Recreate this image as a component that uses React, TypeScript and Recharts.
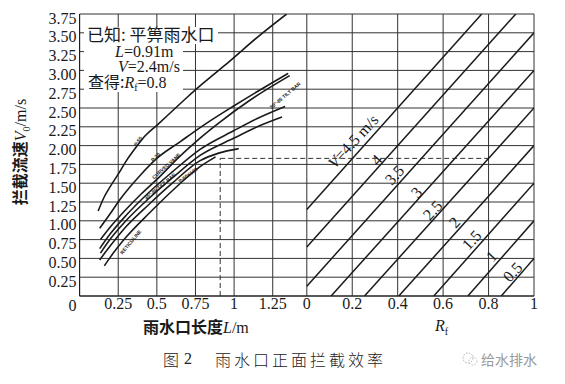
import { ComposedChart, Line, XAxis, YAxis, CartesianGrid, ReferenceLine, Scatter } from "recharts";

// Two panels share one horizontal axis: the right panel is Rf (0..1),
// the left panel is grate length L mapped into [-1, 0) of the same axis.
const LEN_SCALE = 0.68;
const lx = (L: number) => -1 + L * LEN_SCALE;

const lengthTicks = [0.25, 0.5, 0.75, 1, 1.25];
const lengthTickLabels = ["0.25", "0.5", "0.75", "1", "1.25"];
const rfTicks = [0, 0.2, 0.4, 0.6, 0.8, 1];
const rfTickLabels = ["0", "0.2", "0.4", "0.6", "0.8", "1"];
const vTicks = [0, 0.25, 0.5, 0.75, 1, 1.25, 1.5, 1.75, 2, 2.25, 2.5, 2.75, 3, 3.25, 3.5, 3.75];

// splash-over velocity curves: [L (m), V0 (m/s)]
const p50Curve = [[0.12, 1.13], [0.16, 1.32], [0.2, 1.46], [0.25, 1.62], [0.3, 1.79], [0.37, 1.99], [0.42, 2.12], [0.5, 2.27], [0.6, 2.46], [0.7, 2.65], [0.8, 2.83], [0.97, 3.12], [1.15, 3.44], [1.34, 3.75]];
const p30Curve = [[0.13, 0.9], [0.2, 1.1], [0.26, 1.28], [0.39, 1.6], [0.5, 1.83], [0.65, 2.05], [0.78, 2.24], [1.0, 2.53], [1.2, 2.78], [1.35, 2.96]];
const curvedVaneCurve = [[0.135, 0.75], [0.2, 0.92], [0.3, 1.15], [0.4, 1.36], [0.5, 1.55], [0.65, 1.86], [0.78, 2.1], [0.9, 2.3], [1.1, 2.6], [1.36, 2.93]];
const tilt4585Curve = [[0.13, 0.63], [0.2, 0.83], [0.3, 1.07], [0.45, 1.38], [0.6, 1.65], [0.78, 1.95], [1.0, 2.2], [1.15, 2.36], [1.33, 2.52]];
const p50x100Curve = [[0.135, 0.57], [0.2, 0.76], [0.3, 1.0], [0.45, 1.3], [0.6, 1.57], [0.78, 1.87], [1.0, 2.1], [1.15, 2.25], [1.31, 2.38]];
const tilt3085Curve = [[0.13, 0.48], [0.2, 0.67], [0.3, 0.92], [0.45, 1.22], [0.6, 1.5], [0.78, 1.8], [0.9, 1.9], [1.03, 1.96]];
const reticulineCurve = [[0.16, 0.4], [0.2, 0.52], [0.3, 0.78], [0.45, 1.1], [0.6, 1.4], [0.78, 1.72], [0.88, 1.85]];

const grateCurves = [p50Curve, p30Curve, curvedVaneCurve, tilt4585Curve, p50x100Curve, tilt3085Curve, reticulineCurve];

// curve names: [text, L, V0, angle]
const curveLabels: [string, number, number, number][] = [
  ["P-50", 0.377, 2.06, -55],
  ["P-30", 0.49, 1.85, -45],
  ["CURVED VANE", 0.56, 1.73, -42],
  ["45°-85 TILT BAR", 0.52, 1.46, -40],
  ["P-50X100", 0.7, 1.61, -36],
  ["30°-85 TILT BAR", 1.33, 2.67, -40],
  ["RETICULINE", 0.33, 0.72, -50],
];

// efficiency lines for approach velocity V: start / end as [Rf, V0]
const velocities = [4.5, 4, 3.5, 3, 2.5, 2, 1.5, 1, 0.5];
const lineStarts = [[0, 1.15], [0, 0.65], [0, 0.13], [0.107, 0], [0.254, 0], [0.405, 0], [0.559, 0], [0.709, 0], [0.856, 0]];
const lineEnds = [[0.77, 3.75], [0.92, 3.75], [1, 3.5], [1, 3.0], [1, 2.5], [1, 2.0], [1, 1.5], [1, 1.0], [1, 0.5]];
const velocityLabelPos = [[0.203, 2.06], [0.307, 1.81], [0.386, 1.61], [0.483, 1.38], [0.554, 1.14], [0.65, 0.98], [0.725, 0.745], [0.813, 0.53], [0.906, 0.32]];

// worked example: L = 0.91 m, V = 2.4 m/s -> V0 = 1.83, Rf = 0.8
const exampleL = 0.91;
const exampleV0 = 1.83;
const exampleRf = 0.8;

const serif = "'Liberation Serif', 'DejaVu Serif', serif";
const cjk = "'Noto Sans CJK SC', sans-serif";
const ink = "#1a1a1a";

const xTickItems = [
  ...lengthTicks.map((t, i) => ({ pos: lx(t), text: lengthTickLabels[i] })),
  ...rfTicks.map((t, i) => ({ pos: t, text: rfTickLabels[i] })),
];

const curveData = grateCurves.map((c) => c.map(([L, v]) => ({ x: lx(L), y: v })));
const curveLabelData = curveLabels.map(([text, L, v, angle]) => ({ x: lx(L), y: v, text, angle }));
const velocityLineData = velocities.map((_, i) => [
  { x: lineStarts[i][0], y: lineStarts[i][1] },
  { x: lineEnds[i][0], y: lineEnds[i][1] },
]);
const velocityLabelData = velocities.map((v, i) => ({ x: velocityLabelPos[i][0], y: velocityLabelPos[i][1], v, first: i === 0 }));

function XTick({ x, y, payload }: any) {
  const item = xTickItems.find((t) => Math.abs(t.pos - payload.value) < 1e-6);
  return (
    <text x={x} y={y} dy="0.71em" textAnchor="middle" fontFamily={serif} fontSize={16} fill={ink}>
      {item ? item.text : ""}
    </text>
  );
}

function YTick({ x, y, payload }: any) {
  const v = payload.value as number;
  return (
    <text x={x} y={y + (v === 0 ? 9 : 4)} textAnchor="end" dominantBaseline="central" fontFamily={serif} fontSize={16} fill={ink}>
      {v === 0 ? "0" : v.toFixed(2)}
    </text>
  );
}

function CurveName(p: any) {
  const { cx, cy, payload } = p;
  return (
    <text x={cx} y={cy} transform={`rotate(${payload.angle} ${cx} ${cy})`} textAnchor="middle" dominantBaseline="central"
      fontFamily="'Liberation Sans', Arial, sans-serif" fontSize={5} fontWeight="bold" fill={ink}>
      {payload.text}
    </text>
  );
}

function VelocityName(p: any) {
  const { cx, cy, payload } = p;
  return (
    <text x={cx} y={cy} transform={`rotate(-47 ${cx} ${cy})`} textAnchor="middle" dominantBaseline="central"
      fontFamily={serif} fontSize={16} fill={ink}>
      {payload.first ? (<><tspan fontStyle="italic">V</tspan>{`=${payload.v} m/s`}</>) : String(payload.v)}
    </text>
  );
}

// the worked-example note, drawn in SVG so each row sits on its own baseline
function ExampleNote() {
  return (
    <svg style={{ position: "absolute", left: 0, top: 0 }} width={565} height={100}>
      <rect x={84} y={27} width={134} height={17} fill="#fff" />
      <rect x={84} y={44} width={99} height={48} fill="#fff" />
      <text fontSize={16} fill={ink}>
        <tspan x={87} y={41} fontFamily={cjk} fontSize={17}>已知: 平箅雨水口</tspan>
        <tspan x={115} y={57} fontFamily={serif}><tspan fontStyle="italic">L</tspan>=0.91m</tspan>
        <tspan x={118} y={72} fontFamily={serif}><tspan fontStyle="italic">V</tspan>=2.4m/s</tspan>
        <tspan x={88} y={88} fontFamily={cjk}>查得:</tspan>
        <tspan fontFamily={serif} fontStyle="italic">R</tspan>
        <tspan fontFamily={serif} fontSize={10} dy={3}>f</tspan>
        <tspan fontFamily={serif} dy={-3}>=0.8</tspan>
      </text>
    </svg>
  );
}

const abs = (left: number, top: number): React.CSSProperties => ({ position: "absolute", left, top, whiteSpace: "nowrap" });

export default function App() {
  return (
    <div style={{ position: "absolute", left: 0, top: 0, width: 565, height: 384, background: "#fff", color: ink }}>
      <ComposedChart width={565} height={384} margin={{ top: 14, right: 31, bottom: 58, left: 0 }}>
        <CartesianGrid stroke="#333" strokeWidth={1} />
        <XAxis type="number" dataKey="x" domain={[-1, 1]} ticks={xTickItems.map((t) => t.pos)} interval={0}
          tick={<XTick />} tickLine={false} tickSize={0} tickMargin={2} height={30} axisLine={{ stroke: ink }} allowDataOverflow />
        <YAxis type="number" dataKey="y" domain={[0, 3.75]} ticks={vTicks} interval={0} width={79.6}
          tick={<YTick />} tickLine={false} tickSize={0} tickMargin={3} axisLine={{ stroke: ink }} allowDataOverflow />

        <ReferenceLine segment={[{ x: lx(exampleL), y: 0 }, { x: lx(exampleL), y: exampleV0 }]} stroke="#333" strokeDasharray="5 3" />
        <ReferenceLine segment={[{ x: lx(exampleL), y: exampleV0 }, { x: exampleRf, y: exampleV0 }]} stroke="#333" strokeDasharray="5 3" />

        {curveData.map((d, i) => (
          <Line key={`c${i}`} data={d} dataKey="y" type="monotone" stroke={ink} strokeWidth={1.6} dot={false} isAnimationActive={false} />
        ))}
        {velocityLineData.map((d, i) => (
          <Line key={`v${i}`} data={d} dataKey="y" type="linear" stroke={ink} strokeWidth={1.5} dot={false} isAnimationActive={false} />
        ))}
        <Scatter data={curveLabelData} shape={<CurveName />} isAnimationActive={false} />
        <Scatter data={velocityLabelData} shape={<VelocityName />} isAnimationActive={false} />
      </ComposedChart>

      <ExampleNote />

      {/* axis titles */}
      <div style={{ ...abs(20, 152), transform: "translate(-50%, -50%) rotate(-90deg)", fontSize: 16, lineHeight: "18px" }}>
        <span style={{ fontFamily: cjk, fontWeight: 700 }}>拦截流速</span>
        <span style={{ fontFamily: serif }}><i>V</i><sub style={{ fontSize: 10, lineHeight: 0 }}>0</sub>/m/s</span>
      </div>
      <div style={{ ...abs(143, 317), fontSize: 16, lineHeight: "18px" }}>
        <span style={{ fontFamily: cjk, fontWeight: 700 }}>雨水口长度</span>
        <span style={{ fontFamily: serif }}><i>L</i>/m</span>
      </div>
      <div style={{ ...abs(435, 317), fontFamily: serif, fontSize: 16, lineHeight: "18px" }}>
        <i>R</i><sub style={{ fontSize: 10, lineHeight: 0 }}>f</sub>
      </div>

      {/* caption */}
      <div style={{ ...abs(163, 350), fontFamily: cjk, fontSize: 16, lineHeight: "18px", color: "#222", fontWeight: 300 }}>图</div>
      <div style={{ ...abs(184, 350), fontFamily: serif, fontSize: 16, lineHeight: "18px", color: "#222" }}>2</div>
      <div style={{ ...abs(215, 350), fontFamily: cjk, fontSize: 16, lineHeight: "18px", color: "#222", fontWeight: 300, letterSpacing: 3 }}>雨水口正面拦截效率</div>

      {/* watermark */}
      <svg style={{ position: "absolute", left: 461, top: 351 }} width={18} height={16}>
        <circle cx={7} cy={7} r={5} fill="none" stroke="#aaa" strokeDasharray="1.5 1.5" />
        <circle cx={12} cy={10} r={4} fill="none" stroke="#bbb" strokeDasharray="1.5 1.5" />
      </svg>
      <div style={{ ...abs(481, 351), fontFamily: cjk, fontSize: 14, lineHeight: "16px", color: "#999" }}>给水排水</div>
    </div>
  );
}
